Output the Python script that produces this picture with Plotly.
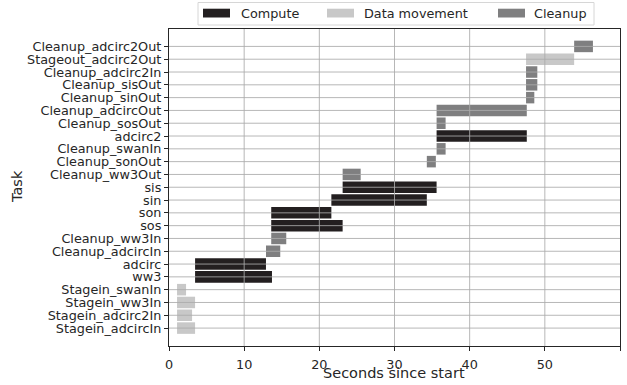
import plotly.graph_objects as go

# Tasks from top to bottom as shown
tasks = [
    "Cleanup_adcirc2Out", "Stageout_adcirc2Out", "Cleanup_adcirc2In", "Cleanup_sisOut",
    "Cleanup_sinOut", "Cleanup_adcircOut", "Cleanup_sosOut", "adcirc2",
    "Cleanup_swanIn", "Cleanup_sonOut", "Cleanup_ww3Out", "sis", "sin", "son", "sos",
    "Cleanup_ww3In", "Cleanup_adcircIn", "adcirc", "ww3",
    "Stagein_swanIn", "Stagein_ww3In", "Stagein_adcirc2In", "Stagein_adcircIn",
]
starts = [53.9, 47.5, 47.5, 47.5, 47.5, 35.6, 35.6, 35.6, 35.6, 34.3, 23.1,
          23.1, 21.6, 13.6, 13.6, 13.6, 12.9, 3.47, 3.47, 1.07, 1.07, 1.07, 1.07]
ends = [56.4, 53.9, 49.0, 49.0, 48.6, 47.6, 36.8, 47.6, 36.8, 35.5, 25.5,
        35.6, 34.3, 21.6, 23.1, 15.6, 14.8, 12.9, 13.7, 2.27, 3.47, 3.07, 3.47]
kinds = ["Cleanup", "Data movement", "Cleanup", "Cleanup", "Cleanup", "Cleanup", "Cleanup",
         "Compute", "Cleanup", "Cleanup", "Cleanup", "Compute", "Compute", "Compute", "Compute",
         "Cleanup", "Cleanup", "Compute", "Compute",
         "Data movement", "Data movement", "Data movement", "Data movement"]
kind_order = ["Compute", "Data movement", "Cleanup"]
kind_colors = {"Compute": "#231f20", "Data movement": "#c8c8c8", "Cleanup": "#7f7f80"}
x_ticks = [0, 10, 20, 30, 40, 50, 60]

fig = go.Figure()
for k in kind_order:
    idx = [i for i, kk in enumerate(kinds) if kk == k]
    fig.add_trace(go.Bar(
        orientation="h",
        y=[tasks[i] for i in idx],
        base=[starts[i] for i in idx],
        x=[ends[i] - starts[i] for i in idx],
        width=0.9,
        name=k,
        marker=dict(color=kind_colors[k], line=dict(width=0)),
        showlegend=False,
    ))

grid_color = "rgba(170,170,170,0.85)"
shapes = []
# gridlines drawn above bars (as in the reference)
for t in x_ticks[1:-1]:
    shapes.append(dict(type="line", xref="x", yref="paper", x0=t, x1=t, y0=0, y1=1,
                       line=dict(color=grid_color, width=1), layer="above"))
for t in tasks:
    shapes.append(dict(type="line", xref="paper", yref="y", x0=0, x1=1, y0=t, y1=t,
                       line=dict(color=grid_color, width=1), layer="above"))

# custom legend (wide swatches like the reference)
W, H = 627, 385
ml, mr, mt, mb = 169, 7, 29, 39
pw, ph = W - ml - mr, H - mt - mb


def px_x(p):
    return (p - ml) / pw


def px_y(p):
    return (H - mb - p) / ph


TXT = "#262626"
shapes.append(dict(type="rect", xref="paper", yref="paper",
                   x0=px_x(198), x1=px_x(594), y0=px_y(25), y1=px_y(2.5),
                   line=dict(color="#d6d6d6", width=1), fillcolor="white", layer="above"))
annotations = []
legend_pos = [(203, 241), (327, 364), (498, 534)]
for k, (sx, tx) in zip(kind_order, legend_pos):
    shapes.append(dict(type="rect", xref="paper", yref="paper",
                       x0=px_x(sx), x1=px_x(sx + 27), y0=px_y(17.5), y1=px_y(8.7),
                       line=dict(width=0), fillcolor=kind_colors[k], layer="above"))
    annotations.append(dict(xref="paper", yref="paper", x=px_x(tx - 2), y=px_y(13.2),
                            text=k, showarrow=False, xanchor="left", yanchor="middle",
                            font=dict(size=12.8, color=TXT)))

# axis titles
annotations.append(dict(xref="paper", yref="paper", x=px_x(394), y=px_y(373),
                        text="Seconds since start", showarrow=False,
                        xanchor="center", yanchor="middle", font=dict(size=14.5, color=TXT)))
annotations.append(dict(xref="paper", yref="paper", x=px_x(17), y=px_y(187),
                        text="Task", showarrow=False, textangle=-90,
                        xanchor="center", yanchor="middle", font=dict(size=14.5, color=TXT)))

fig.update_layout(
    width=W, height=H,
    margin=dict(l=ml, r=mr, t=mt, b=mb, autoexpand=False),
    plot_bgcolor="white", paper_bgcolor="white",
    font=dict(family="DejaVu Sans", size=12.8, color=TXT),
    barmode="overlay",
    shapes=shapes,
    annotations=annotations,
    showlegend=False,
)
fig.update_xaxes(
    range=[0, 60], tickvals=x_ticks, showgrid=False, zeroline=False, automargin=False,
    showline=True, mirror=True, linecolor=TXT, linewidth=1.2,
    ticks="outside", ticklen=4, tickcolor=TXT, ticklabelstandoff=3,
)
fig.update_yaxes(
    type="category", categoryorder="array", categoryarray=tasks[::-1],
    tickmode="array", tickvals=tasks[::-1], ticktext=tasks[::-1],
    range=[-1.4, 22 + 1.36], showgrid=False, zeroline=False, automargin=False,
    showline=True, mirror=True, linecolor=TXT, linewidth=1.2,
    ticks="outside", ticklen=4, tickcolor=TXT,
)

fig.write_html("out.html", config={"displayModeBar": False},
               post_script="document.body.style.margin='0';document.body.style.overflow='hidden';")
